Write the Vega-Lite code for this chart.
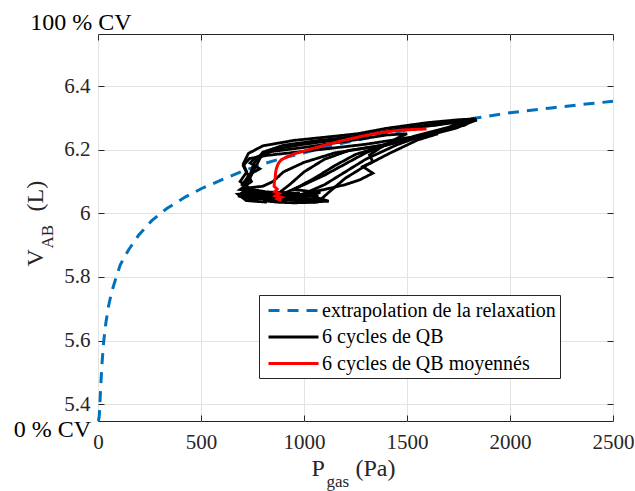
{
  "$schema": "https://vega.github.io/schema/vega-lite/v6.json",
  "width": 515,
  "height": 387,
  "autosize": {"type": "none"},
  "padding": {"left": 98, "top": 34, "right": 22, "bottom": 70},
  "background": "white",
  "config": {
    "font": "Liberation Serif",
    "view": {"stroke": "#262626", "strokeWidth": 1},
    "axis": {"labelFont": "Liberation Serif", "labelFontSize": 21, "labelColor": "#262626", "tickColor": "#262626", "gridColor": "#e3e3e3", "gridWidth": 1, "labelFlush": false, "labelOverlap": false, "labelBound": false, "domain": false},
    "legend": {"orient": "none", "legendX": 161, "legendY": 261, "padding": 4, "rowPadding": 4.5, "fillColor": "white", "strokeColor": "#262626", "labelFont": "Liberation Serif", "labelFontSize": 20, "labelColor": "#000000", "labelLimit": 400, "symbolType": "M-1,0L4,0", "symbolSize": 400, "symbolStrokeWidth": 3, "symbolOffset": 4, "labelOffset": 32, "title": null}
  },
  "datasets": {
    "ext": [
      {"serie": "extrapolation de la relaxation", "i": 0, "P": 2, "V": 5.3475},
      {"serie": "extrapolation de la relaxation", "i": 1, "P": 6, "V": 5.362},
      {"serie": "extrapolation de la relaxation", "i": 2, "P": 11, "V": 5.425},
      {"serie": "extrapolation de la relaxation", "i": 3, "P": 18, "V": 5.515},
      {"serie": "extrapolation de la relaxation", "i": 4, "P": 27, "V": 5.593},
      {"serie": "extrapolation de la relaxation", "i": 5, "P": 38, "V": 5.655},
      {"serie": "extrapolation de la relaxation", "i": 6, "P": 51, "V": 5.708},
      {"serie": "extrapolation de la relaxation", "i": 7, "P": 66, "V": 5.752},
      {"serie": "extrapolation de la relaxation", "i": 8, "P": 84, "V": 5.79},
      {"serie": "extrapolation de la relaxation", "i": 9, "P": 108, "V": 5.838},
      {"serie": "extrapolation de la relaxation", "i": 10, "P": 148, "V": 5.885},
      {"serie": "extrapolation de la relaxation", "i": 11, "P": 197, "V": 5.931},
      {"serie": "extrapolation de la relaxation", "i": 12, "P": 261, "V": 5.977},
      {"serie": "extrapolation de la relaxation", "i": 13, "P": 334, "V": 6.015},
      {"serie": "extrapolation de la relaxation", "i": 14, "P": 423, "V": 6.051},
      {"serie": "extrapolation de la relaxation", "i": 15, "P": 503, "V": 6.078},
      {"serie": "extrapolation de la relaxation", "i": 16, "P": 600, "V": 6.105},
      {"serie": "extrapolation de la relaxation", "i": 17, "P": 697, "V": 6.131},
      {"serie": "extrapolation de la relaxation", "i": 18, "P": 800, "V": 6.155},
      {"serie": "extrapolation de la relaxation", "i": 19, "P": 900, "V": 6.174},
      {"serie": "extrapolation de la relaxation", "i": 20, "P": 1000, "V": 6.19},
      {"serie": "extrapolation de la relaxation", "i": 21, "P": 1100, "V": 6.207},
      {"serie": "extrapolation de la relaxation", "i": 22, "P": 1200, "V": 6.222},
      {"serie": "extrapolation de la relaxation", "i": 23, "P": 1300, "V": 6.236},
      {"serie": "extrapolation de la relaxation", "i": 24, "P": 1400, "V": 6.25},
      {"serie": "extrapolation de la relaxation", "i": 25, "P": 1500, "V": 6.262},
      {"serie": "extrapolation de la relaxation", "i": 26, "P": 1600, "V": 6.273},
      {"serie": "extrapolation de la relaxation", "i": 27, "P": 1700, "V": 6.285},
      {"serie": "extrapolation de la relaxation", "i": 28, "P": 1810, "V": 6.297},
      {"serie": "extrapolation de la relaxation", "i": 29, "P": 2000, "V": 6.316},
      {"serie": "extrapolation de la relaxation", "i": 30, "P": 2200, "V": 6.331},
      {"serie": "extrapolation de la relaxation", "i": 31, "P": 2350, "V": 6.342},
      {"serie": "extrapolation de la relaxation", "i": 32, "P": 2500, "V": 6.352}
    ],
    "qb": [
      {"serie": "6 cycles de QB", "cycle": 1, "i": 0, "P": 880, "V": 6.045},
      {"serie": "6 cycles de QB", "cycle": 1, "i": 1, "P": 1010, "V": 6.04},
      {"serie": "6 cycles de QB", "cycle": 1, "i": 2, "P": 780, "V": 6.05},
      {"serie": "6 cycles de QB", "cycle": 1, "i": 3, "P": 700, "V": 6.06},
      {"serie": "6 cycles de QB", "cycle": 1, "i": 4, "P": 745, "V": 6.072},
      {"serie": "6 cycles de QB", "cycle": 1, "i": 5, "P": 690, "V": 6.1},
      {"serie": "6 cycles de QB", "cycle": 1, "i": 6, "P": 722, "V": 6.13},
      {"serie": "6 cycles de QB", "cycle": 1, "i": 7, "P": 705, "V": 6.155},
      {"serie": "6 cycles de QB", "cycle": 1, "i": 8, "P": 730, "V": 6.188},
      {"serie": "6 cycles de QB", "cycle": 1, "i": 9, "P": 800, "V": 6.212},
      {"serie": "6 cycles de QB", "cycle": 1, "i": 10, "P": 950, "V": 6.229},
      {"serie": "6 cycles de QB", "cycle": 1, "i": 11, "P": 1115, "V": 6.24},
      {"serie": "6 cycles de QB", "cycle": 1, "i": 12, "P": 1260, "V": 6.25},
      {"serie": "6 cycles de QB", "cycle": 1, "i": 13, "P": 1400, "V": 6.267},
      {"serie": "6 cycles de QB", "cycle": 1, "i": 14, "P": 1600, "V": 6.285},
      {"serie": "6 cycles de QB", "cycle": 1, "i": 15, "P": 1750, "V": 6.294},
      {"serie": "6 cycles de QB", "cycle": 1, "i": 16, "P": 1835, "V": 6.297},
      {"serie": "6 cycles de QB", "cycle": 1, "i": 17, "P": 1800, "V": 6.285},
      {"serie": "6 cycles de QB", "cycle": 1, "i": 18, "P": 1740, "V": 6.268},
      {"serie": "6 cycles de QB", "cycle": 1, "i": 19, "P": 1544, "V": 6.236},
      {"serie": "6 cycles de QB", "cycle": 1, "i": 20, "P": 1383, "V": 6.214},
      {"serie": "6 cycles de QB", "cycle": 1, "i": 21, "P": 1221, "V": 6.198},
      {"serie": "6 cycles de QB", "cycle": 1, "i": 22, "P": 1100, "V": 6.17},
      {"serie": "6 cycles de QB", "cycle": 1, "i": 23, "P": 1000, "V": 6.13},
      {"serie": "6 cycles de QB", "cycle": 1, "i": 24, "P": 930, "V": 6.09},
      {"serie": "6 cycles de QB", "cycle": 1, "i": 25, "P": 880, "V": 6.065},
      {"serie": "6 cycles de QB", "cycle": 1, "i": 26, "P": 1030, "V": 6.056},
      {"serie": "6 cycles de QB", "cycle": 1, "i": 27, "P": 880, "V": 6.045},
      {"serie": "6 cycles de QB", "cycle": 2, "i": 0, "P": 850, "V": 6.04},
      {"serie": "6 cycles de QB", "cycle": 2, "i": 1, "P": 1060, "V": 6.046},
      {"serie": "6 cycles de QB", "cycle": 2, "i": 2, "P": 740, "V": 6.045},
      {"serie": "6 cycles de QB", "cycle": 2, "i": 3, "P": 680, "V": 6.055},
      {"serie": "6 cycles de QB", "cycle": 2, "i": 4, "P": 770, "V": 6.066},
      {"serie": "6 cycles de QB", "cycle": 2, "i": 5, "P": 700, "V": 6.09},
      {"serie": "6 cycles de QB", "cycle": 2, "i": 6, "P": 740, "V": 6.125},
      {"serie": "6 cycles de QB", "cycle": 2, "i": 7, "P": 760, "V": 6.16},
      {"serie": "6 cycles de QB", "cycle": 2, "i": 8, "P": 800, "V": 6.192},
      {"serie": "6 cycles de QB", "cycle": 2, "i": 9, "P": 900, "V": 6.214},
      {"serie": "6 cycles de QB", "cycle": 2, "i": 10, "P": 1050, "V": 6.227},
      {"serie": "6 cycles de QB", "cycle": 2, "i": 11, "P": 1250, "V": 6.242},
      {"serie": "6 cycles de QB", "cycle": 2, "i": 12, "P": 1450, "V": 6.264},
      {"serie": "6 cycles de QB", "cycle": 2, "i": 13, "P": 1650, "V": 6.282},
      {"serie": "6 cycles de QB", "cycle": 2, "i": 14, "P": 1820, "V": 6.291},
      {"serie": "6 cycles de QB", "cycle": 2, "i": 15, "P": 1780, "V": 6.277},
      {"serie": "6 cycles de QB", "cycle": 2, "i": 16, "P": 1650, "V": 6.258},
      {"serie": "6 cycles de QB", "cycle": 2, "i": 17, "P": 1500, "V": 6.232},
      {"serie": "6 cycles de QB", "cycle": 2, "i": 18, "P": 1350, "V": 6.205},
      {"serie": "6 cycles de QB", "cycle": 2, "i": 19, "P": 1250, "V": 6.185},
      {"serie": "6 cycles de QB", "cycle": 2, "i": 20, "P": 1150, "V": 6.15},
      {"serie": "6 cycles de QB", "cycle": 2, "i": 21, "P": 1050, "V": 6.11},
      {"serie": "6 cycles de QB", "cycle": 2, "i": 22, "P": 950, "V": 6.075},
      {"serie": "6 cycles de QB", "cycle": 2, "i": 23, "P": 1080, "V": 6.065},
      {"serie": "6 cycles de QB", "cycle": 2, "i": 24, "P": 850, "V": 6.052},
      {"serie": "6 cycles de QB", "cycle": 2, "i": 25, "P": 850, "V": 6.04},
      {"serie": "6 cycles de QB", "cycle": 3, "i": 0, "P": 900, "V": 6.045},
      {"serie": "6 cycles de QB", "cycle": 3, "i": 1, "P": 1100, "V": 6.042},
      {"serie": "6 cycles de QB", "cycle": 3, "i": 2, "P": 760, "V": 6.05},
      {"serie": "6 cycles de QB", "cycle": 3, "i": 3, "P": 980, "V": 6.063},
      {"serie": "6 cycles de QB", "cycle": 3, "i": 4, "P": 710, "V": 6.07},
      {"serie": "6 cycles de QB", "cycle": 3, "i": 5, "P": 730, "V": 6.12},
      {"serie": "6 cycles de QB", "cycle": 3, "i": 6, "P": 785, "V": 6.14},
      {"serie": "6 cycles de QB", "cycle": 3, "i": 7, "P": 738, "V": 6.158},
      {"serie": "6 cycles de QB", "cycle": 3, "i": 8, "P": 765, "V": 6.175},
      {"serie": "6 cycles de QB", "cycle": 3, "i": 9, "P": 830, "V": 6.193},
      {"serie": "6 cycles de QB", "cycle": 3, "i": 10, "P": 1000, "V": 6.207},
      {"serie": "6 cycles de QB", "cycle": 3, "i": 11, "P": 1200, "V": 6.226},
      {"serie": "6 cycles de QB", "cycle": 3, "i": 12, "P": 1400, "V": 6.246},
      {"serie": "6 cycles de QB", "cycle": 3, "i": 13, "P": 1500, "V": 6.25},
      {"serie": "6 cycles de QB", "cycle": 3, "i": 14, "P": 1450, "V": 6.235},
      {"serie": "6 cycles de QB", "cycle": 3, "i": 15, "P": 1380, "V": 6.21},
      {"serie": "6 cycles de QB", "cycle": 3, "i": 16, "P": 1318, "V": 6.183},
      {"serie": "6 cycles de QB", "cycle": 3, "i": 17, "P": 1334, "V": 6.162},
      {"serie": "6 cycles de QB", "cycle": 3, "i": 18, "P": 1286, "V": 6.147},
      {"serie": "6 cycles de QB", "cycle": 3, "i": 19, "P": 1334, "V": 6.126},
      {"serie": "6 cycles de QB", "cycle": 3, "i": 20, "P": 1270, "V": 6.105},
      {"serie": "6 cycles de QB", "cycle": 3, "i": 21, "P": 1200, "V": 6.09},
      {"serie": "6 cycles de QB", "cycle": 3, "i": 22, "P": 1100, "V": 6.075},
      {"serie": "6 cycles de QB", "cycle": 3, "i": 23, "P": 1000, "V": 6.062},
      {"serie": "6 cycles de QB", "cycle": 3, "i": 24, "P": 1070, "V": 6.055},
      {"serie": "6 cycles de QB", "cycle": 3, "i": 25, "P": 900, "V": 6.05},
      {"serie": "6 cycles de QB", "cycle": 4, "i": 0, "P": 820, "V": 6.035},
      {"serie": "6 cycles de QB", "cycle": 4, "i": 1, "P": 720, "V": 6.04},
      {"serie": "6 cycles de QB", "cycle": 4, "i": 2, "P": 680, "V": 6.06},
      {"serie": "6 cycles de QB", "cycle": 4, "i": 3, "P": 810, "V": 6.068},
      {"serie": "6 cycles de QB", "cycle": 4, "i": 4, "P": 720, "V": 6.078},
      {"serie": "6 cycles de QB", "cycle": 4, "i": 5, "P": 725, "V": 6.095},
      {"serie": "6 cycles de QB", "cycle": 4, "i": 6, "P": 760, "V": 6.14},
      {"serie": "6 cycles de QB", "cycle": 4, "i": 7, "P": 790, "V": 6.177},
      {"serie": "6 cycles de QB", "cycle": 4, "i": 8, "P": 860, "V": 6.202},
      {"serie": "6 cycles de QB", "cycle": 4, "i": 9, "P": 1000, "V": 6.217},
      {"serie": "6 cycles de QB", "cycle": 4, "i": 10, "P": 1200, "V": 6.234},
      {"serie": "6 cycles de QB", "cycle": 4, "i": 11, "P": 1400, "V": 6.257},
      {"serie": "6 cycles de QB", "cycle": 4, "i": 12, "P": 1600, "V": 6.274},
      {"serie": "6 cycles de QB", "cycle": 4, "i": 13, "P": 1780, "V": 6.289},
      {"serie": "6 cycles de QB", "cycle": 4, "i": 14, "P": 1700, "V": 6.27},
      {"serie": "6 cycles de QB", "cycle": 4, "i": 15, "P": 1550, "V": 6.245},
      {"serie": "6 cycles de QB", "cycle": 4, "i": 16, "P": 1420, "V": 6.22},
      {"serie": "6 cycles de QB", "cycle": 4, "i": 17, "P": 1300, "V": 6.19},
      {"serie": "6 cycles de QB", "cycle": 4, "i": 18, "P": 1200, "V": 6.155},
      {"serie": "6 cycles de QB", "cycle": 4, "i": 19, "P": 1100, "V": 6.12},
      {"serie": "6 cycles de QB", "cycle": 4, "i": 20, "P": 1000, "V": 6.09},
      {"serie": "6 cycles de QB", "cycle": 4, "i": 21, "P": 900, "V": 6.062},
      {"serie": "6 cycles de QB", "cycle": 4, "i": 22, "P": 990, "V": 6.056},
      {"serie": "6 cycles de QB", "cycle": 4, "i": 23, "P": 820, "V": 6.045},
      {"serie": "6 cycles de QB", "cycle": 5, "i": 0, "P": 800, "V": 6.04},
      {"serie": "6 cycles de QB", "cycle": 5, "i": 1, "P": 960, "V": 6.045},
      {"serie": "6 cycles de QB", "cycle": 5, "i": 2, "P": 700, "V": 6.05},
      {"serie": "6 cycles de QB", "cycle": 5, "i": 3, "P": 900, "V": 6.058},
      {"serie": "6 cycles de QB", "cycle": 5, "i": 4, "P": 690, "V": 6.075},
      {"serie": "6 cycles de QB", "cycle": 5, "i": 5, "P": 745, "V": 6.1},
      {"serie": "6 cycles de QB", "cycle": 5, "i": 6, "P": 720, "V": 6.13},
      {"serie": "6 cycles de QB", "cycle": 5, "i": 7, "P": 705, "V": 6.15},
      {"serie": "6 cycles de QB", "cycle": 5, "i": 8, "P": 735, "V": 6.172},
      {"serie": "6 cycles de QB", "cycle": 5, "i": 9, "P": 820, "V": 6.182},
      {"serie": "6 cycles de QB", "cycle": 5, "i": 10, "P": 960, "V": 6.192},
      {"serie": "6 cycles de QB", "cycle": 5, "i": 11, "P": 1100, "V": 6.202},
      {"serie": "6 cycles de QB", "cycle": 5, "i": 12, "P": 1300, "V": 6.217},
      {"serie": "6 cycles de QB", "cycle": 5, "i": 13, "P": 1500, "V": 6.237},
      {"serie": "6 cycles de QB", "cycle": 5, "i": 14, "P": 1650, "V": 6.25},
      {"serie": "6 cycles de QB", "cycle": 5, "i": 15, "P": 1550, "V": 6.23},
      {"serie": "6 cycles de QB", "cycle": 5, "i": 16, "P": 1420, "V": 6.19},
      {"serie": "6 cycles de QB", "cycle": 5, "i": 17, "P": 1300, "V": 6.15},
      {"serie": "6 cycles de QB", "cycle": 5, "i": 18, "P": 1200, "V": 6.11},
      {"serie": "6 cycles de QB", "cycle": 5, "i": 19, "P": 1115, "V": 6.063},
      {"serie": "6 cycles de QB", "cycle": 5, "i": 20, "P": 1066, "V": 6.035},
      {"serie": "6 cycles de QB", "cycle": 5, "i": 21, "P": 950, "V": 6.033},
      {"serie": "6 cycles de QB", "cycle": 5, "i": 22, "P": 870, "V": 6.035},
      {"serie": "6 cycles de QB", "cycle": 5, "i": 23, "P": 800, "V": 6.04},
      {"serie": "6 cycles de QB", "cycle": 6, "i": 0, "P": 870, "V": 6.05},
      {"serie": "6 cycles de QB", "cycle": 6, "i": 1, "P": 1000, "V": 6.052},
      {"serie": "6 cycles de QB", "cycle": 6, "i": 2, "P": 740, "V": 6.055},
      {"serie": "6 cycles de QB", "cycle": 6, "i": 3, "P": 950, "V": 6.06},
      {"serie": "6 cycles de QB", "cycle": 6, "i": 4, "P": 700, "V": 6.065},
      {"serie": "6 cycles de QB", "cycle": 6, "i": 5, "P": 730, "V": 6.08},
      {"serie": "6 cycles de QB", "cycle": 6, "i": 6, "P": 800, "V": 6.085},
      {"serie": "6 cycles de QB", "cycle": 6, "i": 7, "P": 850, "V": 6.1},
      {"serie": "6 cycles de QB", "cycle": 6, "i": 8, "P": 900, "V": 6.13},
      {"serie": "6 cycles de QB", "cycle": 6, "i": 9, "P": 1000, "V": 6.16},
      {"serie": "6 cycles de QB", "cycle": 6, "i": 10, "P": 1150, "V": 6.19},
      {"serie": "6 cycles de QB", "cycle": 6, "i": 11, "P": 1350, "V": 6.21},
      {"serie": "6 cycles de QB", "cycle": 6, "i": 12, "P": 1550, "V": 6.24},
      {"serie": "6 cycles de QB", "cycle": 6, "i": 13, "P": 1700, "V": 6.265},
      {"serie": "6 cycles de QB", "cycle": 6, "i": 14, "P": 1840, "V": 6.293},
      {"serie": "6 cycles de QB", "cycle": 6, "i": 15, "P": 1760, "V": 6.28},
      {"serie": "6 cycles de QB", "cycle": 6, "i": 16, "P": 1600, "V": 6.25},
      {"serie": "6 cycles de QB", "cycle": 6, "i": 17, "P": 1450, "V": 6.215},
      {"serie": "6 cycles de QB", "cycle": 6, "i": 18, "P": 1300, "V": 6.17},
      {"serie": "6 cycles de QB", "cycle": 6, "i": 19, "P": 1200, "V": 6.13},
      {"serie": "6 cycles de QB", "cycle": 6, "i": 20, "P": 1100, "V": 6.09},
      {"serie": "6 cycles de QB", "cycle": 6, "i": 21, "P": 1000, "V": 6.062},
      {"serie": "6 cycles de QB", "cycle": 6, "i": 22, "P": 1120, "V": 6.038},
      {"serie": "6 cycles de QB", "cycle": 6, "i": 23, "P": 1000, "V": 6.035},
      {"serie": "6 cycles de QB", "cycle": 6, "i": 24, "P": 870, "V": 6.05}
    ],
    "moy": [
      {"serie": "6 cycles de QB moyennés", "i": 0, "P": 890, "V": 6.04},
      {"serie": "6 cycles de QB moyennés", "i": 1, "P": 872, "V": 6.045},
      {"serie": "6 cycles de QB moyennés", "i": 2, "P": 890, "V": 6.05},
      {"serie": "6 cycles de QB moyennés", "i": 3, "P": 862, "V": 6.055},
      {"serie": "6 cycles de QB moyennés", "i": 4, "P": 880, "V": 6.062},
      {"serie": "6 cycles de QB moyennés", "i": 5, "P": 858, "V": 6.068},
      {"serie": "6 cycles de QB moyennés", "i": 6, "P": 870, "V": 6.076},
      {"serie": "6 cycles de QB moyennés", "i": 7, "P": 855, "V": 6.085},
      {"serie": "6 cycles de QB moyennés", "i": 8, "P": 856, "V": 6.097},
      {"serie": "6 cycles de QB moyennés", "i": 9, "P": 860, "V": 6.112},
      {"serie": "6 cycles de QB moyennés", "i": 10, "P": 862, "V": 6.127},
      {"serie": "6 cycles de QB moyennés", "i": 11, "P": 866, "V": 6.141},
      {"serie": "6 cycles de QB moyennés", "i": 12, "P": 875, "V": 6.156},
      {"serie": "6 cycles de QB moyennés", "i": 13, "P": 889, "V": 6.168},
      {"serie": "6 cycles de QB moyennés", "i": 14, "P": 920, "V": 6.178},
      {"serie": "6 cycles de QB moyennés", "i": 15, "P": 953, "V": 6.187},
      {"serie": "6 cycles de QB moyennés", "i": 16, "P": 1034, "V": 6.202},
      {"serie": "6 cycles de QB moyennés", "i": 17, "P": 1115, "V": 6.217},
      {"serie": "6 cycles de QB moyennés", "i": 18, "P": 1212, "V": 6.232},
      {"serie": "6 cycles de QB moyennés", "i": 19, "P": 1300, "V": 6.245},
      {"serie": "6 cycles de QB moyennés", "i": 20, "P": 1383, "V": 6.255},
      {"serie": "6 cycles de QB moyennés", "i": 21, "P": 1480, "V": 6.262},
      {"serie": "6 cycles de QB moyennés", "i": 22, "P": 1595, "V": 6.265}
    ]
  },
  "layer": [
    {
      "data": {"name": "ext"},
      "mark": {"type": "line", "strokeWidth": 3},
      "encoding": {
        "x": {"field": "P", "type": "quantitative", "scale": {"domain": [0, 2500], "nice": false, "zero": false},
              "axis": {"orient": "bottom", "title": null, "values": [0, 500, 1000, 1500, 2000, 2500], "format": "d", "tickSize": -6, "labelPadding": 16, "grid": true}},
        "y": {"field": "V", "type": "quantitative", "scale": {"domain": [5.3475, 6.5634], "nice": false, "zero": false},
              "axis": {"orient": "left", "title": null, "values": [5.4, 5.6, 5.8, 6, 6.2, 6.4], "format": ".1~f", "tickSize": -6, "labelPadding": 14, "grid": true}},
        "color": {"field": "serie", "type": "nominal", "scale": {"domain": ["extrapolation de la relaxation", "6 cycles de QB", "6 cycles de QB moyennés"], "range": ["#0072BD", "#000000", "#FF0000"]}},
        "strokeDash": {"field": "serie", "type": "nominal", "scale": {"domain": ["extrapolation de la relaxation", "6 cycles de QB", "6 cycles de QB moyennés"], "range": [[11, 8], [1, 0], [1, 0]]}},
        "order": {"field": "i", "type": "quantitative"}
      }
    },
    {
      "data": {"values": [{"label": "100 % CV", "P": 0, "V": 6.5634}]},
      "mark": {"type": "text", "fontSize": 24, "align": "center", "baseline": "alphabetic", "dx": -17, "dy": -4, "color": "#000000"},
      "encoding": {
        "x": {"field": "P", "type": "quantitative", "scale": {"domain": [0, 2500], "nice": false, "zero": false},
              "axis": {"orient": "top", "title": null, "labels": false, "grid": false, "values": [0, 500, 1000, 1500, 2000, 2500], "tickSize": -6}},
        "y": {"field": "V", "type": "quantitative", "scale": {"domain": [5.3475, 6.5634], "nice": false, "zero": false},
              "axis": {"orient": "right", "title": null, "labels": false, "grid": false, "values": [5.4, 5.6, 5.8, 6, 6.2, 6.4], "tickSize": -6}},
        "text": {"field": "label"}
      }
    },
    {
      "data": {"name": "qb"},
      "mark": {"type": "line", "strokeWidth": 2.8},
      "encoding": {
        "x": {"field": "P", "type": "quantitative", "scale": {"domain": [0, 2500], "nice": false, "zero": false}, "axis": null},
        "y": {"field": "V", "type": "quantitative", "scale": {"domain": [5.3475, 6.5634], "nice": false, "zero": false}, "axis": null},
        "color": {"field": "serie", "type": "nominal", "scale": {"domain": ["extrapolation de la relaxation", "6 cycles de QB", "6 cycles de QB moyennés"], "range": ["#0072BD", "#000000", "#FF0000"]}},
        "strokeDash": {"field": "serie", "type": "nominal", "scale": {"domain": ["extrapolation de la relaxation", "6 cycles de QB", "6 cycles de QB moyennés"], "range": [[11, 8], [1, 0], [1, 0]]}},
        "detail": {"field": "cycle", "type": "nominal"},
        "order": {"field": "i", "type": "quantitative"}
      }
    },
    {
      "data": {"name": "moy"},
      "mark": {"type": "line", "strokeWidth": 3},
      "encoding": {
        "x": {"field": "P", "type": "quantitative", "scale": {"domain": [0, 2500], "nice": false, "zero": false}, "axis": null},
        "y": {"field": "V", "type": "quantitative", "scale": {"domain": [5.3475, 6.5634], "nice": false, "zero": false}, "axis": null},
        "color": {"field": "serie", "type": "nominal", "scale": {"domain": ["extrapolation de la relaxation", "6 cycles de QB", "6 cycles de QB moyennés"], "range": ["#0072BD", "#000000", "#FF0000"]}},
        "strokeDash": {"field": "serie", "type": "nominal", "scale": {"domain": ["extrapolation de la relaxation", "6 cycles de QB", "6 cycles de QB moyennés"], "range": [[11, 8], [1, 0], [1, 0]]}},
        "order": {"field": "i", "type": "quantitative"}
      }
    },
    {
      "data": {"values": [{"label": "0 % CV", "P": 0, "V": 5.3475}]},
      "mark": {"type": "text", "fontSize": 24, "align": "right", "baseline": "alphabetic", "dx": -7, "dy": 16, "color": "#000000"},
      "encoding": {
        "x": {"field": "P", "type": "quantitative", "scale": {"domain": [0, 2500], "nice": false, "zero": false}, "axis": null},
        "y": {"field": "V", "type": "quantitative", "scale": {"domain": [5.3475, 6.5634], "nice": false, "zero": false}, "axis": null},
        "text": {"field": "label"}
      }
    },
    {
      "data": {"values": [{"label": "P", "P": 1250, "V": 5.3475}]},
      "mark": {"type": "text", "fontSize": 24, "align": "left", "baseline": "alphabetic", "dx": -44, "dy": 55, "color": "#262626"},
      "encoding": {
        "x": {"field": "P", "type": "quantitative", "scale": {"domain": [0, 2500], "nice": false, "zero": false}, "axis": null},
        "y": {"field": "V", "type": "quantitative", "scale": {"domain": [5.3475, 6.5634], "nice": false, "zero": false}, "axis": null},
        "text": {"field": "label"}
      }
    },
    {
      "data": {"values": [{"label": "gas", "P": 1250, "V": 5.3475}]},
      "mark": {"type": "text", "fontSize": 17, "align": "left", "baseline": "alphabetic", "dx": -29, "dy": 66, "color": "#262626"},
      "encoding": {
        "x": {"field": "P", "type": "quantitative", "scale": {"domain": [0, 2500], "nice": false, "zero": false}, "axis": null},
        "y": {"field": "V", "type": "quantitative", "scale": {"domain": [5.3475, 6.5634], "nice": false, "zero": false}, "axis": null},
        "text": {"field": "label"}
      }
    },
    {
      "data": {"values": [{"label": "(Pa)", "P": 1250, "V": 5.3475}]},
      "mark": {"type": "text", "fontSize": 24, "align": "left", "baseline": "alphabetic", "dx": 0, "dy": 55, "color": "#262626"},
      "encoding": {
        "x": {"field": "P", "type": "quantitative", "scale": {"domain": [0, 2500], "nice": false, "zero": false}, "axis": null},
        "y": {"field": "V", "type": "quantitative", "scale": {"domain": [5.3475, 6.5634], "nice": false, "zero": false}, "axis": null},
        "text": {"field": "label"}
      }
    },
    {
      "data": {"values": [{"label": "V", "P": 0, "V": 5.9555}]},
      "mark": {"type": "text", "fontSize": 24, "align": "left", "baseline": "alphabetic", "angle": 270, "dx": -39, "dy": -55, "color": "#262626"},
      "encoding": {
        "x": {"field": "P", "type": "quantitative", "scale": {"domain": [0, 2500], "nice": false, "zero": false}, "axis": null},
        "y": {"field": "V", "type": "quantitative", "scale": {"domain": [5.3475, 6.5634], "nice": false, "zero": false}, "axis": null},
        "text": {"field": "label"}
      }
    },
    {
      "data": {"values": [{"label": "AB", "P": 0, "V": 5.9555}]},
      "mark": {"type": "text", "fontSize": 17, "align": "left", "baseline": "alphabetic", "angle": 270, "dx": -21, "dy": -45, "color": "#262626"},
      "encoding": {
        "x": {"field": "P", "type": "quantitative", "scale": {"domain": [0, 2500], "nice": false, "zero": false}, "axis": null},
        "y": {"field": "V", "type": "quantitative", "scale": {"domain": [5.3475, 6.5634], "nice": false, "zero": false}, "axis": null},
        "text": {"field": "label"}
      }
    },
    {
      "data": {"values": [{"label": "(L)", "P": 0, "V": 5.9555}]},
      "mark": {"type": "text", "fontSize": 24, "align": "left", "baseline": "alphabetic", "angle": 270, "dx": 16, "dy": -55, "color": "#262626"},
      "encoding": {
        "x": {"field": "P", "type": "quantitative", "scale": {"domain": [0, 2500], "nice": false, "zero": false}, "axis": null},
        "y": {"field": "V", "type": "quantitative", "scale": {"domain": [5.3475, 6.5634], "nice": false, "zero": false}, "axis": null},
        "text": {"field": "label"}
      }
    }
  ],
  "resolve": {"axis": {"x": "independent", "y": "independent"}}
}
